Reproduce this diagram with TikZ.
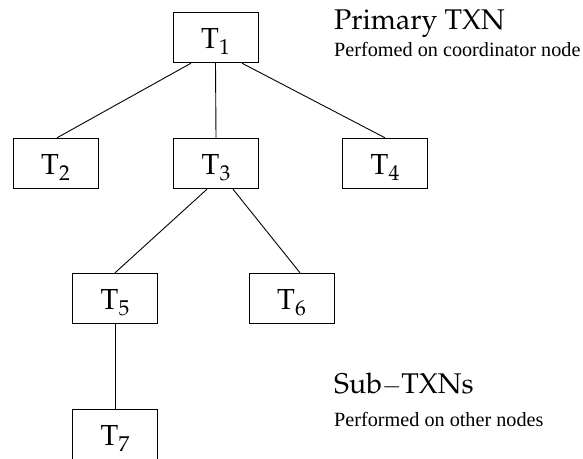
\documentclass[tikz,border=0pt]{standalone}
\usepackage[T1]{fontenc}
\usepackage{fontspec}
\setmainfont{Liberation Serif}
% Palatino (URW Palladio) for the transaction labels and headings
\newcommand\palfont{\fontencoding{T1}\fontfamily{ppl}\selectfont}
\newcommand\txn[1]{{\palfont\fontsize{29}{29}\selectfont T\raisebox{-6.4pt}{\fontsize{21.5}{21.5}\selectfont #1}}}
\begin{document}
\begin{tikzpicture}[x=1pt,y=-1pt,
  txnbox/.style={draw,line width=0.9pt,minimum width=85pt,minimum height=50.5pt,
    inner sep=0pt,text height=27.4pt,text depth=6pt},
  link/.style={line width=0.9pt},
  head/.style={anchor=base west,inner sep=0pt,font=\palfont\fontsize{28.5}{28.5}\selectfont},
  note/.style={anchor=base west,inner sep=0pt,font=\fontsize{20.2}{20.2}\selectfont}]
\useasboundingbox (0,0) rectangle (583,458);

% transaction tree
\node[txnbox] (t1) at (215.5,37.5) {\txn{1}};
\node[txnbox] (t2) at (55.5,163.5) {\txn{2}};
\node[txnbox] (t3) at (216,163.5) {\txn{3}};
\node[txnbox] (t4) at (385,163.5) {\txn{4}};
\node[txnbox] (t5) at (115,298.5) {\txn{5}};
\node[txnbox] (t6) at (291.5,298.5) {\txn{6}};
\node[txnbox] (t7) at (115,434.5) {\txn{7}};

\draw[link] ([xshift=-24.5pt]t1.south) -- ([xshift=1.5pt]t2.north);
\draw[link] (t1.south) -- (t3.north);
\draw[link] ([xshift=26.5pt]t1.south) -- (t4.north);
\draw[link] ([xshift=-9pt]t3.south) -- (t5.north);
\draw[link] ([xshift=17pt]t3.south) -- ([xshift=8.5pt]t6.north);
\draw[link] (t5.south) -- (t7.north);

% captions
\node[head] (primary) at (334,29) {Primary TXN};
\node[note] (coord) at (334,56) {Perfomed on coordinator node};
\node[head] (sub) at (334,393) {Sub$-$TXNs};
\node[note] (other) at (334,426) {Performed on other nodes};
\end{tikzpicture}
\end{document}
